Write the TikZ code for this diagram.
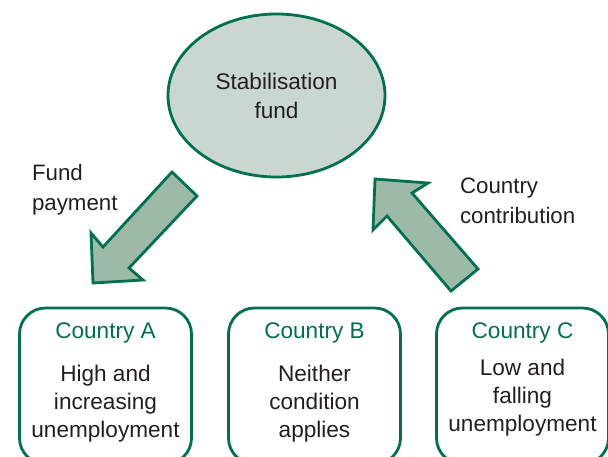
\documentclass[tikz,border=0pt]{standalone}
\usepackage{fontspec}
\setmainfont{Liberation Sans}
\usetikzlibrary{shapes.geometric}
\definecolor{dgreen}{HTML}{00704F}
\definecolor{efill}{HTML}{CAD6D0}
\definecolor{afill}{HTML}{9DBAA8}
\definecolor{txt}{HTML}{231F20}
\begin{document}
\begin{tikzpicture}[x=1pt,y=-1pt,
  every node/.style={inner sep=0pt,outer sep=0pt},
  txtstyle/.style={font=\fontsize{22.6}{28}\selectfont,text=txt,align=center},
  ltxt/.style={font=\fontsize{22.3}{29.5}\selectfont,text=txt,align=left,anchor=base west},
  ctitle/.style={font=\fontsize{22.6}{28}\selectfont,text=dgreen,anchor=base},
  cbox/.style={draw=dgreen,line width=2.8pt,rounded corners=26pt,minimum width=172pt,minimum height=156pt},
  fundshape/.style={ellipse,draw=dgreen,fill=efill,line width=2.8pt,minimum width=217pt,minimum height=163pt},
  blockarrow/.style={draw=dgreen,fill=afill,line width=2.8pt,line join=miter}
]
\useasboundingbox (0,0) rectangle (608,456);
\begin{scope}
\clip (0,0) rectangle (608,456);
% ellipse
\node[fundshape] (fund) at (276.5,95.5) {};
\node[txtstyle,anchor=base,font=\fontsize{22.6}{29}\selectfont] (fundtxt) at (276.5,118) {Stabilisation\\fund};
% boxes
\node[cbox] (boxA) at (105.5,386) {};
\node[cbox] (boxB) at (314.5,386) {};
\node[cbox] (boxC) at (522.5,386) {};
\node[ctitle] (titA) at (105.5,338) {Country A};
\node[ctitle] (titB) at (314.5,338) {Country B};
\node[ctitle] (titC) at (522.5,338) {Country C};
\node[txtstyle,anchor=base] (bodyA) at (105.5,437) {High and\\increasing\\unemployment};
\node[txtstyle,anchor=base] (bodyB) at (314.5,437) {Neither\\condition\\applies};
\node[txtstyle,anchor=base] (bodyC) at (522.5,431) {Low and\\falling\\unemployment};
% arrows
\draw[blockarrow] (172,172) -- (197,196) -- (129,268) -- (143,280) -- (93,283) -- (91,233) -- (103,247) -- cycle;
\draw[blockarrow] (478,269) -- (412,193) -- (428,183) -- (375,179) -- (373,230) -- (387,216) -- (451,291) -- cycle;
% labels
\node[ltxt] (lpay) at (32,210) {Fund\\payment};
\node[ltxt] (lcon) at (460,223) {Country\\contribution};
\end{scope}
\end{tikzpicture}
\end{document}
